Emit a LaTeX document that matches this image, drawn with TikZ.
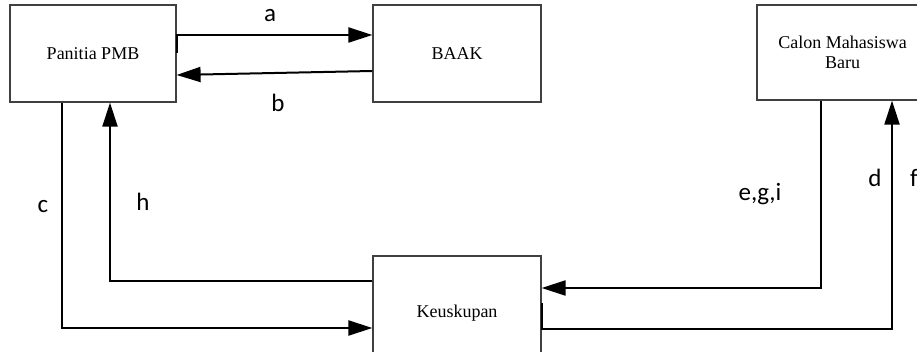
\documentclass[tikz,border=0pt]{standalone}
\usepackage{fontspec}
\setmainfont{Liberation Serif}
\newfontfamily\lab{Carlito}
\usetikzlibrary{arrows.meta}
\begin{document}
\begin{tikzpicture}[x=1pt,y=-1pt,
  box/.style={draw=black!75, line width=1.2pt, rectangle, inner sep=0pt,
    font=\fontsize{18}{20}\selectfont, align=center},
  conn/.style={line width=2pt, -{Triangle[length=24pt,width=15pt]}},
  lbl/.style={font=\lab\fontsize{25}{28}\selectfont, inner sep=0pt}]
\useasboundingbox (0,0) rectangle (917,352);
\node[box, minimum width=166pt, minimum height=97pt] (pmb) at (93,53.5) {Panitia PMB};
\node[box, minimum width=168pt, minimum height=97pt] (baak) at (457,53.5) {BAAK};
\node[box, minimum width=171pt, minimum height=95pt] (calon) at (842.5,52.5) {Calon Mahasiswa\\Baru};
\node[box, minimum width=168pt, minimum height=114pt] (keus) at (457,313) {Keuskupan};
% a
\draw[conn] (pmb.east) -- ([yshift=18.5pt]pmb.east) -- ([yshift=18.5pt]baak.west);
% b
\draw[conn] ([yshift=-17.5pt]baak.west) -- ([yshift=-21.5pt]pmb.east);
% c
\draw[conn] ([xshift=-31pt]pmb.south) |- ([yshift=-15pt]keus.west);
% h
\draw[conn] ([yshift=32pt]keus.west) -| ([xshift=17pt]pmb.south);
% e,g,i
\draw[conn] ([xshift=-21.5pt]calon.south) |- ([yshift=25pt]keus.east);
% d,f
\draw[conn] ([yshift=10pt]keus.east) -- ([yshift=-16pt]keus.east) -| ([xshift=49.5pt]calon.south);
% labels
\node[lbl] (la) at (270,16) {a};
\node[lbl] (lb) at (278,103) {b};
\node[lbl] (lc) at (43,207) {c};
\node[lbl] (lh) at (143,202) {h};
\node[lbl] (legi) at (760,194) {e,g,i};
\node[lbl] (ld) at (875,178) {d};
\node[lbl] (lf) at (914,178) {f};
\end{tikzpicture}
\end{document}
